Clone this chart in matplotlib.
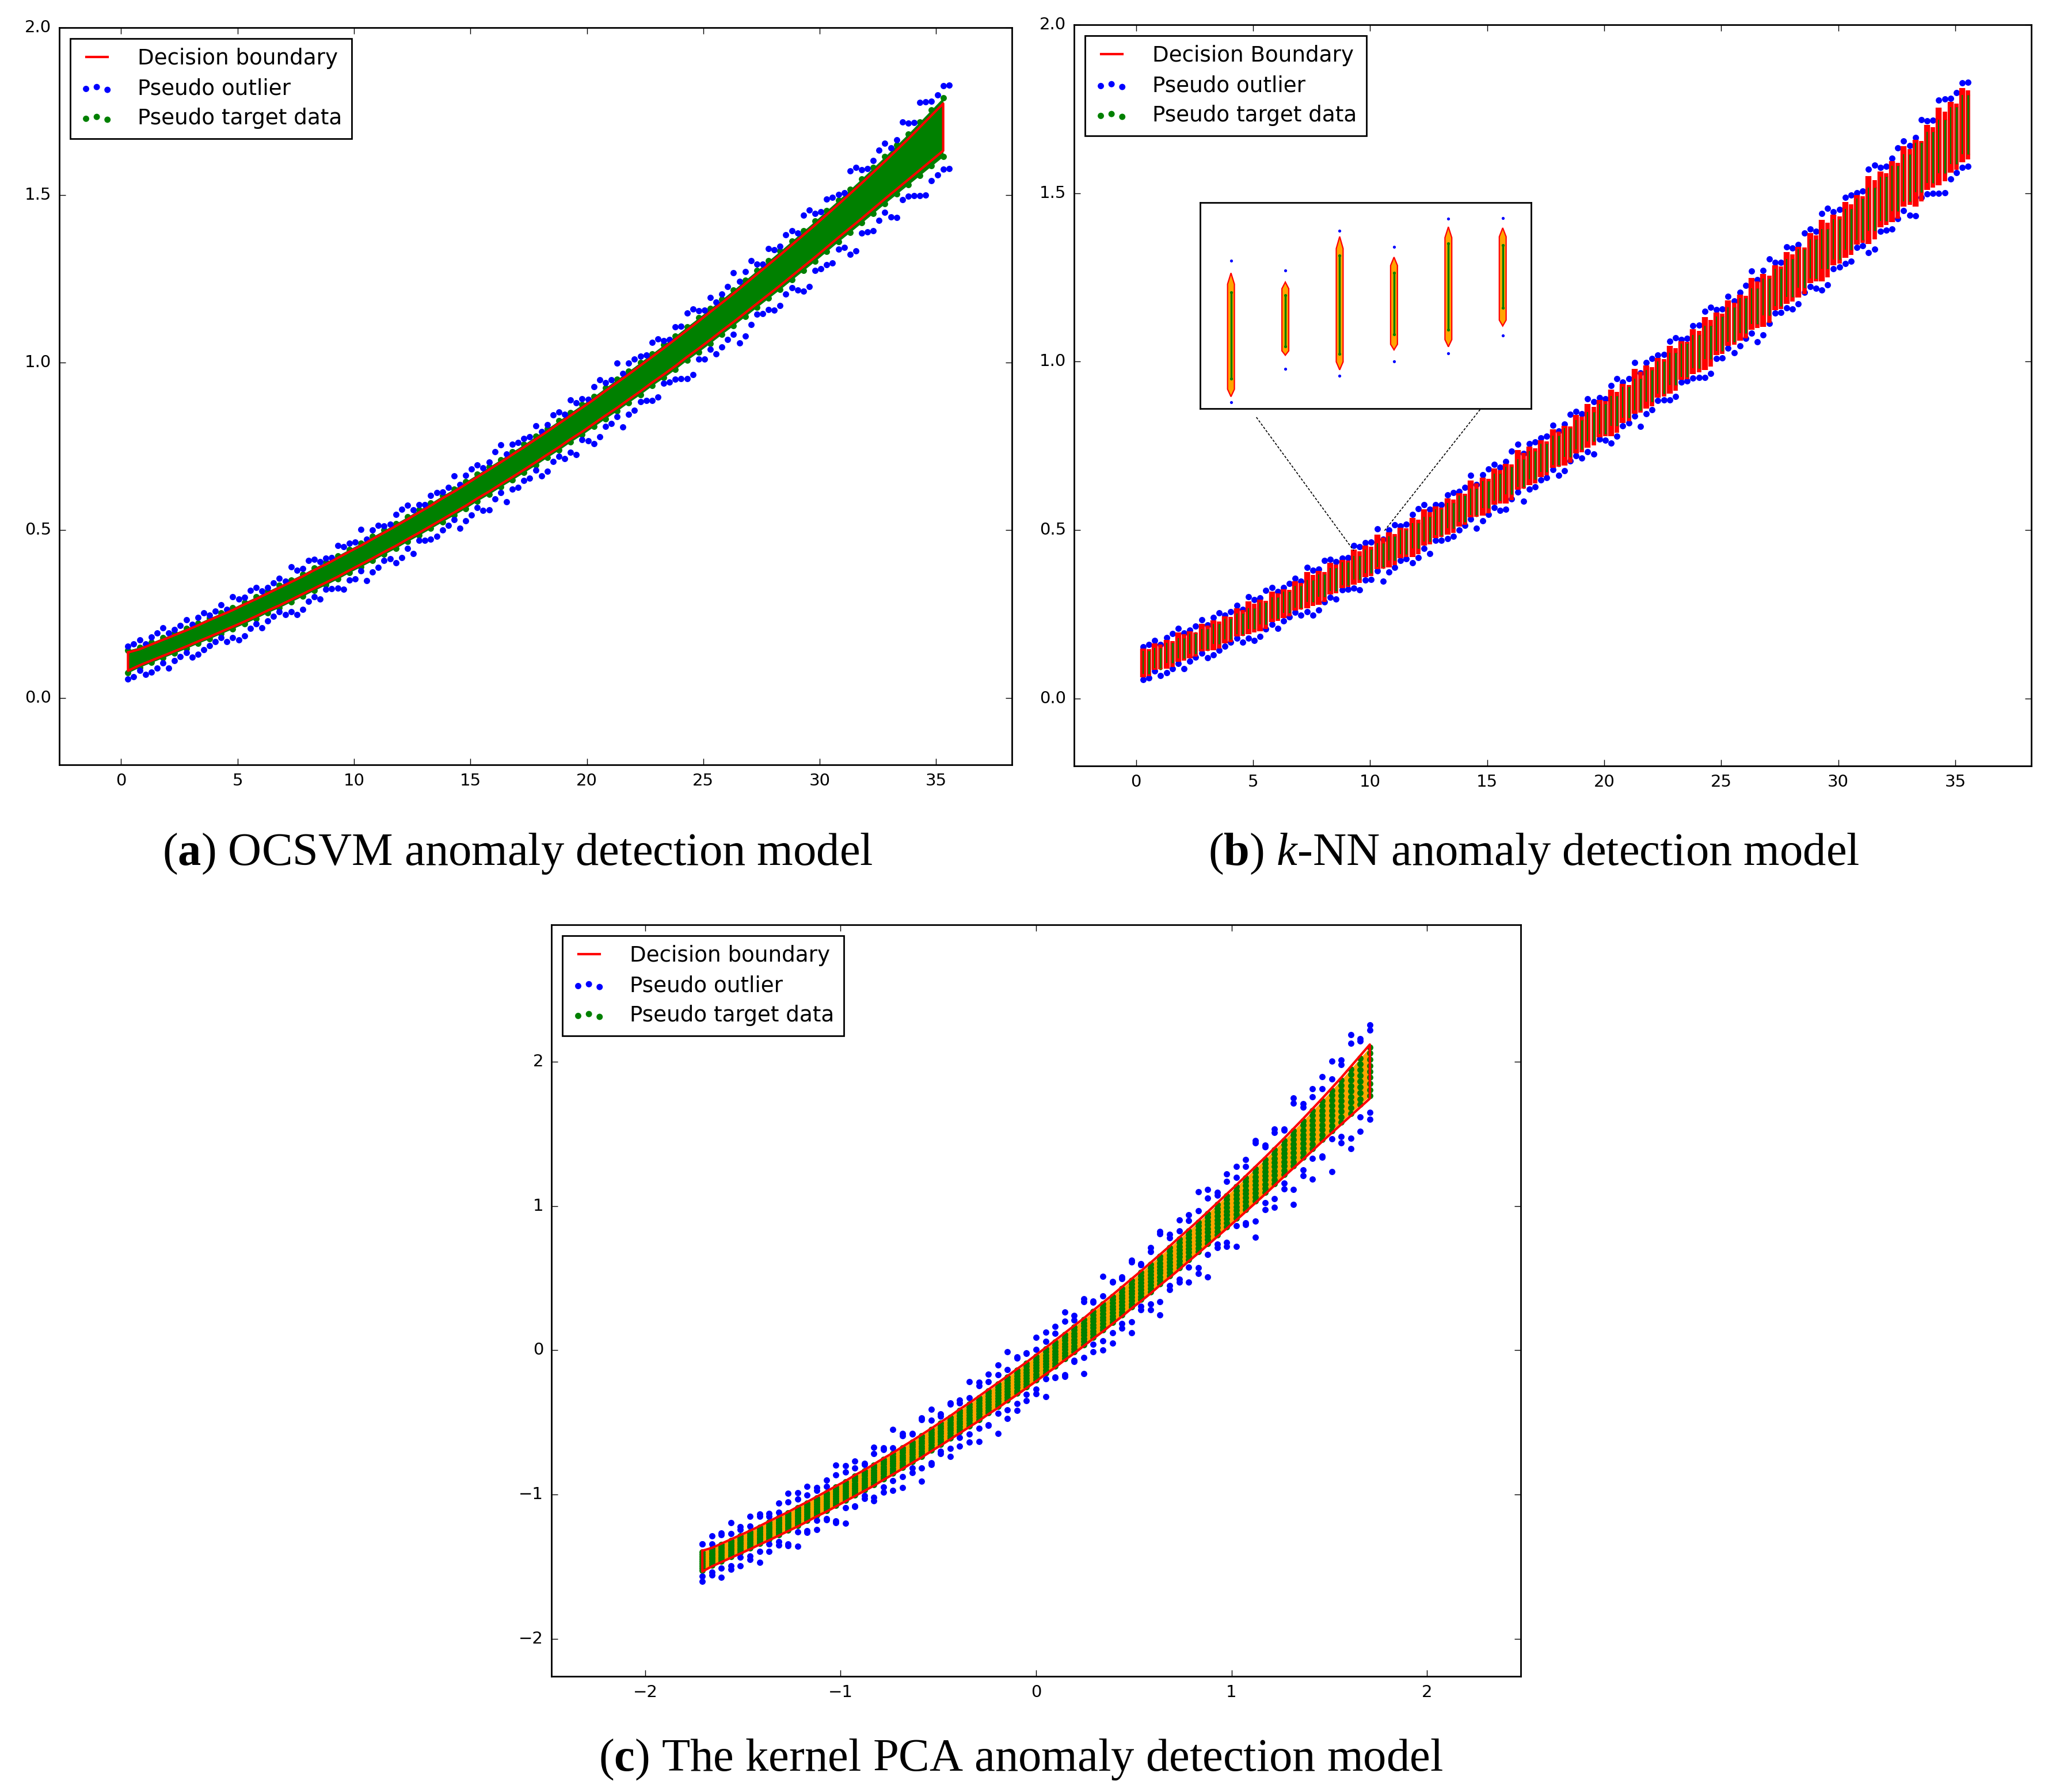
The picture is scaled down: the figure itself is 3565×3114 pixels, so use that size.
import matplotlib.pyplot as plt
import matplotlib
import numpy as np
from matplotlib.lines import Line2D

matplotlib.style.use("classic")
plt.rcParams["figure.facecolor"] = "white"
plt.rcParams["savefig.facecolor"] = "white"
plt.rcParams["font.family"] = ["DejaVu Sans"]
plt.rcParams["mathtext.fontset"] = "custom"
plt.rcParams["mathtext.rm"] = "Liberation Serif"
plt.rcParams["mathtext.it"] = "Liberation Serif:italic"
plt.rcParams["mathtext.bf"] = "Liberation Serif:bold"

BLUE = "#0000ff"
GREEN = "#008000"
RED = "#ff0000"
ORANGE = "#ffa500"

# sample columns of the data set (x) and the band
x_cols = np.round(np.arange(0.3, 35.31, 0.5), 2)
center = np.array([
    0.108, 0.121, 0.135, 0.149, 0.163, 0.177, 0.192, 0.207, 0.222, 0.237,
    0.253, 0.269, 0.286, 0.302, 0.319, 0.336, 0.354, 0.371, 0.389, 0.408,
    0.426, 0.445, 0.464, 0.483, 0.503, 0.523, 0.543, 0.564, 0.584, 0.605,
    0.627, 0.648, 0.670, 0.692, 0.714, 0.737, 0.760, 0.783, 0.807, 0.830,
    0.854, 0.879, 0.903, 0.928, 0.953, 0.979, 1.004, 1.030, 1.057, 1.083,
    1.110, 1.137, 1.164, 1.192, 1.220, 1.248, 1.276, 1.305, 1.334, 1.363,
    1.393, 1.423, 1.453, 1.483, 1.514, 1.545, 1.576, 1.607, 1.639, 1.671, 1.703])
half_width = np.array([
    0.034, 0.030, 0.030, 0.030, 0.030, 0.030, 0.030, 0.031, 0.031, 0.031,
    0.032, 0.032, 0.032, 0.033, 0.033, 0.033, 0.034, 0.034, 0.035, 0.035,
    0.035, 0.036, 0.036, 0.037, 0.037, 0.038, 0.038, 0.039, 0.039, 0.040,
    0.040, 0.041, 0.041, 0.042, 0.042, 0.043, 0.043, 0.044, 0.044, 0.045,
    0.045, 0.046, 0.047, 0.047, 0.048, 0.048, 0.049, 0.050, 0.050, 0.051,
    0.052, 0.052, 0.053, 0.054, 0.055, 0.056, 0.057, 0.058, 0.059, 0.060,
    0.061, 0.062, 0.064, 0.066, 0.068, 0.070, 0.073, 0.076, 0.080, 0.084, 0.088])
# distance of the pseudo outliers above / below the target band
gap_up = np.array([
    0.012, 0.022, 0.016, 0.030, 0.010, 0.026, 0.018, 0.009, 0.024, 0.034,
    0.014, 0.028, 0.011, 0.021, 0.038, 0.016, 0.025, 0.012, 0.031, 0.019,
    0.042, 0.020, 0.013, 0.027, 0.035, 0.015, 0.023, 0.011, 0.039, 0.019,
    0.028, 0.014, 0.044, 0.022, 0.017, 0.032, 0.012, 0.025, 0.038, 0.018,
    0.030, 0.015, 0.048, 0.023, 0.018, 0.034, 0.013, 0.027, 0.042, 0.021,
    0.032, 0.016, 0.052, 0.025, 0.019, 0.036, 0.014, 0.030, 0.047, 0.022,
    0.034, 0.017, 0.055, 0.027, 0.021, 0.040, 0.016, 0.032, 0.058, 0.026, 0.036])
gap_lo = np.array([
    0.018, 0.010, 0.028, 0.015, 0.022, 0.012, 0.032, 0.020, 0.011, 0.026,
    0.036, 0.017, 0.024, 0.013, 0.029, 0.040, 0.019, 0.014, 0.027, 0.022,
    0.012, 0.034, 0.018, 0.043, 0.021, 0.015, 0.031, 0.024, 0.013, 0.037,
    0.020, 0.046, 0.016, 0.028, 0.023, 0.014, 0.041, 0.019, 0.030, 0.015,
    0.050, 0.024, 0.017, 0.035, 0.021, 0.044, 0.016, 0.029, 0.054, 0.022,
    0.018, 0.038, 0.026, 0.058, 0.020, 0.033, 0.048, 0.024, 0.062, 0.028,
    0.040, 0.022, 0.066, 0.030, 0.052, 0.026, 0.070, 0.034, 0.060, 0.044, 0.038])

# inset of panel (b): six k-NN columns (normalised inset units)
ins_x = [1, 2, 3, 4, 5, 6]
ins_out_hi = [0.718, 0.671, 0.864, 0.785, 0.921, 0.924]
ins_out_lo = [0.032, 0.193, 0.160, 0.228, 0.269, 0.354]
ins_bnd_hi = [0.658, 0.614, 0.835, 0.735, 0.882, 0.877]
ins_bnd_lo = [0.058, 0.259, 0.188, 0.285, 0.300, 0.401]
ins_tgt_hi = [0.564, 0.550, 0.742, 0.658, 0.802, 0.793]
ins_tgt_lo = [0.145, 0.303, 0.266, 0.359, 0.382, 0.490]
# zoom connector lines (panel b data coords)
link_start = [(5.14, 0.835), (14.70, 0.858)]
link_end = [(9.30, 0.439), (10.60, 0.497)]

captions = [r"($\mathbf{a}$) OCSVM anomaly detection model",
            r"($\mathbf{b}$) $k$-NN anomaly detection model",
            r"($\mathbf{c}$) The kernel PCA anomaly detection model"]

W, H = 3565, 3114
fig = plt.figure(figsize=(W / 100, H / 100), dpi=100)


def px_axes(left, top, right, bottom):
    return fig.add_axes([left / W, 1 - bottom / H, (right - left) / W, (bottom - top) / H])


def style_axes(ax):
    ax.tick_params(which="major", direction="in", length=7.7, width=1.0, pad=10,
                   labelsize=21, top=True, right=True)
    for sp in ax.spines.values():
        sp.set_linewidth(2.0)


def add_legend(ax, labels, blue, green):
    h_line = Line2D([], [], color=RED, lw=3)
    leg = ax.legend([h_line, blue, green], labels, loc="upper left",
                    fontsize=26.8, scatterpoints=3, handlelength=1.6,
                    handletextpad=1.1, borderpad=0.45, labelspacing=0.4,
                    borderaxespad=0.5, fancybox=False)
    leg.get_frame().set_linewidth(2.0)


DOT = 62
up = center + half_width
lo = center - half_width
# outlier positions: one row per side plus a second row with the other gap list
out_x = np.r_[x_cols, x_cols, x_cols + 0.25, x_cols + 0.25]
out_y = np.r_[up + gap_up, lo - gap_lo, up + gap_lo, lo - gap_up]

# ---- (a) OCSVM
ax_a = px_axes(103, 48, 1758, 1329)
ax_a.fill_between(x_cols, lo, up, color=GREEN, lw=0)
green_a = ax_a.scatter(np.r_[x_cols, x_cols], np.r_[up, lo], s=DOT, c=GREEN, lw=0)
blue_a = ax_a.scatter(out_x, out_y, s=DOT, c=BLUE, lw=0)
bx = np.r_[x_cols, x_cols[::-1], x_cols[:1]]
by = np.r_[center + 0.8 * half_width, (center - 0.8 * half_width)[::-1], center[:1] + 0.8 * half_width[:1]]
ax_a.plot(bx, by, color=RED, lw=3)
ax_a.set_xlim(-2.65, 38.25)
ax_a.set_ylim(-0.2, 2.0)
ax_a.set_xticks([0, 5, 10, 15, 20, 25, 30, 35])
ax_a.set_yticks([0.0, 0.5, 1.0, 1.5, 2.0])
style_axes(ax_a)
add_legend(ax_a, ["Decision boundary", "Pseudo outlier", "Pseudo target data"], blue_a, green_a)

# ---- (b) k-NN
ax_b = px_axes(1866, 43, 3529, 1331)
ax_b.vlines(x_cols, center - half_width - 0.6 * gap_lo, center + half_width + 0.6 * gap_up,
            colors=RED, lw=7.5)
ax_b.vlines(x_cols + 0.25, center - half_width - 0.4 * gap_lo, center + half_width + 0.4 * gap_up,
            colors=RED, lw=5.5)
ax_b.vlines(x_cols + 0.25, lo, up, colors=GREEN, lw=2.5)
ax_b.vlines(x_cols, lo, up, colors=GREEN, lw=1.5)
ax_b.scatter(np.r_[x_cols, x_cols] + 0.25, np.r_[up, lo], s=20, c=GREEN, lw=0)
blue_b = ax_b.scatter(out_x, out_y, s=DOT, c=BLUE, lw=0)
green_b = ax_b.scatter([], [], s=DOT, c=GREEN, lw=0)
for (x0, y0), (x1, y1) in zip(link_start, link_end):
    ax_b.plot([x0, x1], [y0, y1], color="black", lw=1.2, ls=(0, (3, 2)))
ax_b.set_xlim(-2.65, 38.25)
ax_b.set_ylim(-0.2, 2.0)
ax_b.set_xticks([0, 5, 10, 15, 20, 25, 30, 35])
ax_b.set_yticks([0.0, 0.5, 1.0, 1.5, 2.0])
style_axes(ax_b)
add_legend(ax_b, ["Decision Boundary", "Pseudo outlier", "Pseudo target data"], blue_b, green_b)

ax_in = px_axes(2085, 352, 2660, 710)
w = 0.063
for xi, bh, bl in zip(ins_x, ins_bnd_hi, ins_bnd_lo):
    h = bh - bl
    px = [xi, xi + w, xi + w, xi, xi - w, xi - w]
    py = [bh, bh - 0.09 * h, bl + 0.06 * h, bl, bl + 0.06 * h, bh - 0.09 * h]
    ax_in.fill(px, py, facecolor=ORANGE, edgecolor=RED, lw=1.6)
ax_in.vlines(ins_x, ins_tgt_lo, ins_tgt_hi, colors=GREEN, lw=2.5)
ax_in.scatter(ins_x * 2, ins_tgt_lo + ins_tgt_hi, s=14, c=GREEN, lw=0)
ax_in.scatter(ins_x * 2, ins_out_hi + ins_out_lo, s=14, c=BLUE, lw=0)
ax_in.set_xlim(0.432, 6.522)
ax_in.set_ylim(0, 1)
ax_in.set_xticks([])
ax_in.set_yticks([])
for sp in ax_in.spines.values():
    sp.set_linewidth(2.0)

# ---- (c) kernel PCA: the same data standardised
xs = (x_cols - x_cols.mean()) / x_cols.std()
ym, ysd = center.mean(), center.std()
cs = (center - ym) / ysd
hs = half_width / ysd
gu = gap_up * 1.8 / ysd
gl = gap_lo * 1.8 / ysd

ax_c = px_axes(958, 1607, 2642, 2913)
ax_c.fill_between(xs, cs - 0.9 * hs, cs + 0.9 * hs, color=ORANGE, lw=0)
rows = [0.0, 0.22, -0.22, 0.45, -0.45, 0.68, -0.68, 0.9, -0.9]
green_c = ax_c.scatter(np.concatenate([xs] * len(rows)),
                       np.concatenate([cs + r * hs for r in rows]),
                       s=DOT, c=GREEN, lw=0)
blue_c = ax_c.scatter(np.r_[xs, xs, xs, xs],
                      np.r_[cs + hs + gu, cs - hs - gl, cs + hs + 0.7 * gl, cs - hs - 0.7 * gu],
                      s=DOT, c=BLUE, lw=0)
cbx = np.r_[xs, xs[::-1], xs[:1]]
cby = np.r_[cs + hs, (cs - hs)[::-1], cs[:1] + hs[:1]]
ax_c.plot(cbx, cby, color=RED, lw=3)
ax_c.set_xlim(-2.48, 2.48)
ax_c.set_ylim(-2.26, 2.95)
ax_c.set_xticks([-2, -1, 0, 1, 2])
ax_c.set_yticks([-2, -1, 0, 1, 2])
style_axes(ax_c)
add_legend(ax_c, ["Decision boundary", "Pseudo outlier", "Pseudo target data"], blue_c, green_c)

# captions
for (cx, cy), text in zip([(899, 1484), (2665, 1484), (1773, 3058)], captions):
    fig.text(cx / W, 1 - cy / H, text, ha="center", va="center", fontsize=58,
             family="Liberation Serif")

fig.savefig("out.png", dpi=100)
